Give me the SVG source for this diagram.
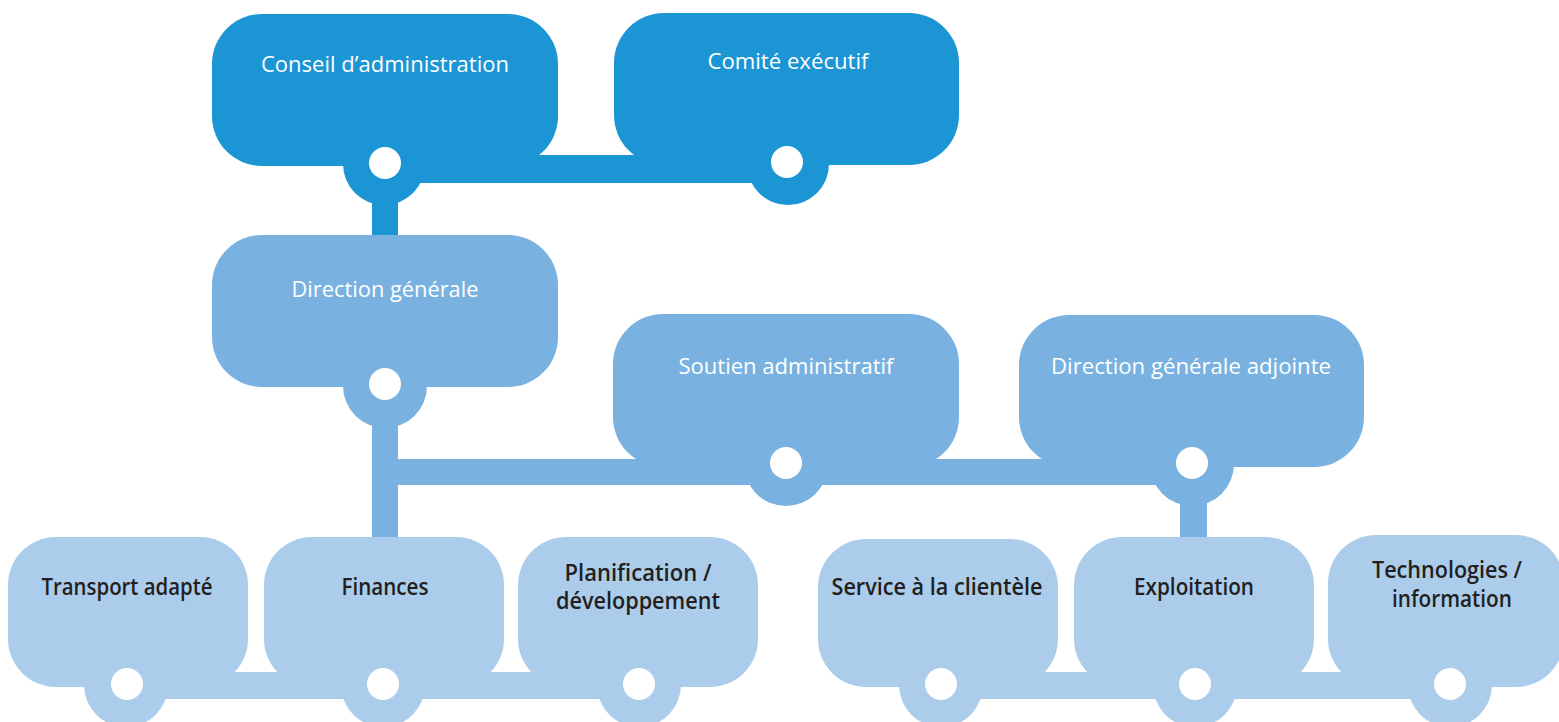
<svg xmlns="http://www.w3.org/2000/svg" width="1559" height="722" viewBox="0 0 1559 722">
  <style>
    .dark { fill: #1B95D3; }
    .mid { fill: #79B2E0; }
    .light { fill: #ABCDEB; }
    .hole { fill: #FFFFFF; }
    .lblw { font-family: "Open Sans", "Noto Sans", sans-serif; font-size: 22.5px; font-weight: 500; fill: #FFFFFF; text-anchor: middle; }
    .lbld { font-family: "Open Sans", "Noto Sans", sans-serif; font-size: 22.5px; font-weight: 600; fill: #231F20; text-anchor: middle; }
  </style>
  <rect width="1559" height="722" fill="#FFFFFF"/>

  <!-- connector bars -->
  <g id="connectors">
    <rect class="dark" x="385" y="155" width="402" height="28"/>
    <rect class="dark" x="372" y="190" width="26" height="50"/>
    <rect class="mid" x="372" y="410" width="26" height="130"/>
    <rect class="mid" x="385" y="459" width="807" height="26"/>
    <rect class="mid" x="1180" y="490" width="27" height="50"/>
    <rect class="light" x="127" y="672" width="512" height="27"/>
    <rect class="light" x="941" y="672" width="509" height="27"/>
  </g>

  <g id="conseil">
    <rect class="dark" x="212" y="14" width="346" height="152" rx="50"/>
    <circle class="dark" cx="384" cy="164" r="41"/>
    <circle class="hole" cx="385" cy="163" r="16"/>
    <text class="lblw" x="385" y="72" textLength="248" lengthAdjust="spacingAndGlyphs">Conseil d’administration</text>
  </g>

  <g id="comite">
    <rect class="dark" x="614" y="13" width="345" height="152" rx="50"/>
    <circle class="dark" cx="788" cy="164" r="41"/>
    <circle class="hole" cx="787" cy="162" r="16"/>
    <text class="lblw" x="788" y="69" textLength="161" lengthAdjust="spacingAndGlyphs">Comité exécutif</text>
  </g>

  <g id="direction-generale">
    <rect class="mid" x="212" y="235" width="346" height="152" rx="50"/>
    <circle class="mid" cx="385" cy="386" r="42"/>
    <circle class="hole" cx="385" cy="384" r="16"/>
    <text class="lblw" x="385" y="297" textLength="187" lengthAdjust="spacingAndGlyphs">Direction générale</text>
  </g>

  <g id="soutien-administratif">
    <rect class="mid" x="613" y="314" width="346" height="153" rx="50"/>
    <circle class="mid" cx="786" cy="464" r="42"/>
    <circle class="hole" cx="786" cy="463" r="16"/>
    <text class="lblw" x="786" y="374" textLength="215" lengthAdjust="spacingAndGlyphs">Soutien administratif</text>
  </g>

  <g id="direction-generale-adjointe">
    <rect class="mid" x="1019" y="315" width="345" height="152" rx="50"/>
    <circle class="mid" cx="1192" cy="464" r="42"/>
    <circle class="hole" cx="1192" cy="463" r="16"/>
    <text class="lblw" x="1191" y="374" textLength="280" lengthAdjust="spacingAndGlyphs">Direction générale adjointe</text>
  </g>

  <g id="transport-adapte">
    <rect class="light" x="8" y="537" width="240" height="150" rx="48"/>
    <circle class="light" cx="126" cy="685" r="42"/>
    <circle class="hole" cx="127" cy="684" r="16"/>
    <text class="lbld" x="127" y="595" textLength="171" lengthAdjust="spacingAndGlyphs">Transport adapté</text>
  </g>

  <g id="finances">
    <rect class="light" x="264" y="537" width="240" height="150" rx="48"/>
    <circle class="light" cx="383" cy="685" r="42"/>
    <circle class="hole" cx="383" cy="684" r="16"/>
    <text class="lbld" x="385" y="595" textLength="87" lengthAdjust="spacingAndGlyphs">Finances</text>
  </g>

  <g id="planification">
    <rect class="light" x="518" y="537" width="240" height="150" rx="48"/>
    <circle class="light" cx="639" cy="685" r="42"/>
    <circle class="hole" cx="639" cy="684" r="16"/>
    <text class="lbld" x="638" y="581" textLength="147" lengthAdjust="spacingAndGlyphs">Planification /</text>
    <text class="lbld" x="638" y="609" textLength="164" lengthAdjust="spacingAndGlyphs">développement</text>
  </g>

  <g id="service-clientele">
    <rect class="light" x="818" y="539" width="240" height="148" rx="48"/>
    <circle class="light" cx="941" cy="685" r="42"/>
    <circle class="hole" cx="941" cy="684" r="16"/>
    <text class="lbld" x="937" y="595" textLength="211" lengthAdjust="spacingAndGlyphs">Service à la clientèle</text>
  </g>

  <g id="exploitation">
    <rect class="light" x="1074" y="537" width="240" height="150" rx="48"/>
    <circle class="light" cx="1195" cy="685" r="42"/>
    <circle class="hole" cx="1195" cy="684" r="16"/>
    <text class="lbld" x="1194" y="595" textLength="120" lengthAdjust="spacingAndGlyphs">Exploitation</text>
  </g>

  <g id="technologies">
    <rect class="light" x="1328" y="535" width="236" height="152" rx="48"/>
    <circle class="light" cx="1450" cy="685" r="42"/>
    <circle class="hole" cx="1450" cy="684" r="16"/>
    <text class="lbld" x="1447" y="578" textLength="150" lengthAdjust="spacingAndGlyphs">Technologies /</text>
    <text class="lbld" x="1452" y="607" textLength="120" lengthAdjust="spacingAndGlyphs">information</text>
  </g>
</svg>
